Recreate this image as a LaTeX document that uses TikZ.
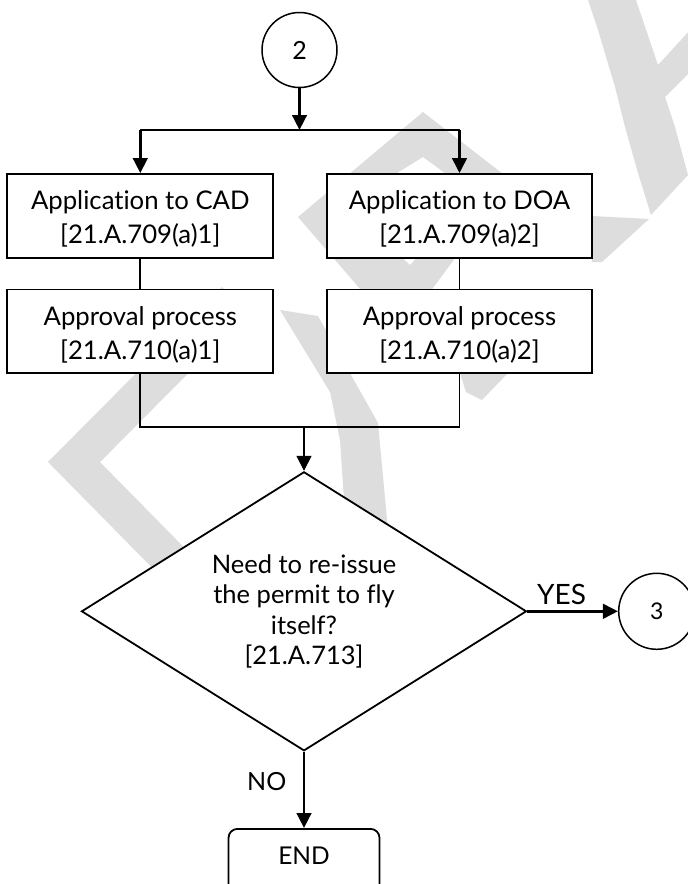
\documentclass[tikz,border=0pt]{standalone}
\usepackage{fontspec}
\setmainfont{Lato}[Ligatures=NoCommon]
\usetikzlibrary{arrows.meta,shapes.geometric}
\definecolor{wm}{RGB}{221,221,221}
\newcommand{\upstrut}{\rule{0pt}{25.7pt}}
\begin{document}
\begin{tikzpicture}[x=1pt,y=-1pt,
  box/.style={draw,line width=1.8pt,fill=white,minimum width=266pt,minimum height=83.7pt,
    inner sep=0pt,align=center,font=\fontsize{25.7}{34}\selectfont},
  circ/.style={draw,circle,line width=1.5pt,fill=white,inner sep=0pt},
  dia/.style={draw,diamond,shape aspect=1.6,minimum width=445pt,minimum height=279pt,
    inner sep=0pt,fill=white,line width=1.8pt,align=center,font=\fontsize{25.5}{30.5}\selectfont},
  endbox/.style={draw,rectangle,rounded corners=9pt,line width=1.8pt,fill=white,
    minimum width=151pt,minimum height=70pt,inner sep=0pt,text height=17.2pt,text depth=15.4pt,
    font=\fontsize{24.5}{28}\selectfont},
  lbl/.style={inner sep=0pt},
  conn/.style={line width=1.8pt},
  arr/.style={line width=2.8pt,-{Triangle[length=15pt,width=14.5pt]}}
]
\useasboundingbox (0,0) rectangle (688,884);
\clip (0,0) rectangle (688,884);
\fill[white] (0,0) rectangle (688,884);
% watermark
\fill[wm] (588,0) -- (636,0) -- (658,65) -- (692,28) -- (692,70) -- (665,97) -- (675,127)
  -- (688,175) -- (651,215) -- (638,173) -- (625,127) -- (615,87) -- (598,30) -- cycle;
\fill[wm] (592,216) -- (649,219) -- (602,262) -- (592,262) -- cycle;
\fill[wm,even odd rule] (298,217) -- (423,112) -- (512,181) -- (399,334) -- cycle
  (345,205) -- (423,157) -- (475,195) -- (410,265) -- cycle;
\fill[wm] (280,310) -- (318,316) -- (378,423) -- (388,530) -- (346,530) -- (340,440) -- (330,392) -- cycle;
\fill[wm] (460,373) -- (508,373) -- (482,400) -- (466,392) -- cycle;
\draw[wm,line width=37pt,line join=miter] (235,300) -- (74,462) -- (200,590);
% nodes
\node[circ,minimum size=75pt,font=\fontsize{25}{28}\selectfont] (c2) at (299.5,50) {2};
\node[box] (b1) at (140.3,215.85) {\upstrut Application to CAD\\{[21.A.709(a)1]}};
\node[box,minimum width=265pt] (b2) at (459.5,215.85) {\upstrut Application to DOA\\{[21.A.709(a)2]}};
\node[box] (b3) at (140.3,331.3) {\upstrut Approval process\\{[21.A.710(a)1]}};
\node[box,minimum width=265pt] (b4) at (459.5,331.3) {\upstrut Approval process\\{[21.A.710(a)2]}};
\node[dia] (dec) at (304,611.3) {Need to re-issue\\the permit to fly\\itself?\\{[21.A.713]}};
\node[circ,minimum size=76pt,font=\fontsize{23}{26}\selectfont] (c3) at (656.7,611.3) {3};
\node[endbox,anchor=north] (end) at (304,828) {END};
\node[lbl,font=\fontsize{28}{32}\selectfont] (yes) at (561.6,594) {YES};
\node[lbl,font=\fontsize{25}{28}\selectfont] (no) at (266.7,781.7) {NO};
% connectors
\coordinate (split) at (299.5,130);
\coordinate (sl) at (b1.north |- split);
\coordinate (sr) at (b2.north |- split);
\coordinate (j) at (304,426.7);
\draw[arr] (c2) -- (split);
\draw[conn] (sl) -- (sr);
\draw[arr] (sl) -- (b1.north);
\draw[arr] (sr) -- (b2.north);
\draw[conn] (b1) -- (b3);
\draw[conn] (b2) -- (b4);
\draw[conn] (b3.south) |- (j) -| (b4.south);
\draw[arr] (j) -- (dec);
\draw[arr] (dec) -- (c3);
\draw[arr] (dec) -- (end);
\end{tikzpicture}
\end{document}
